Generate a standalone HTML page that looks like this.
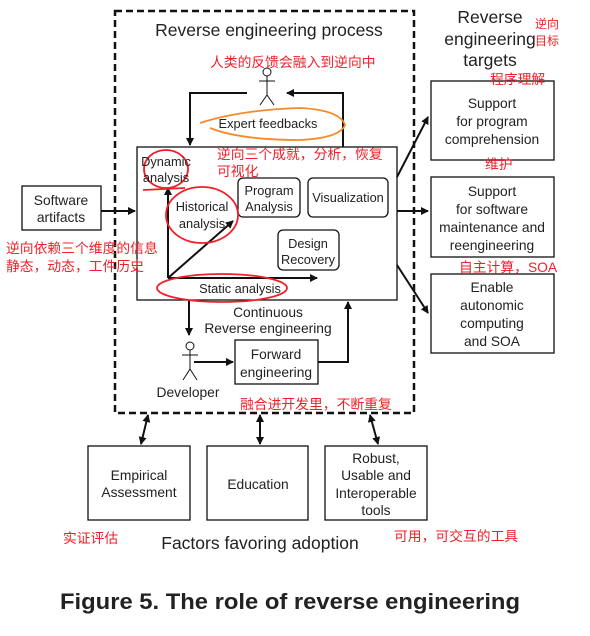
<!DOCTYPE html>
<html><head><meta charset="utf-8"><style>
html,body{margin:0;padding:0;background:#fff;width:590px;height:636px;overflow:hidden}
svg{display:block}
text{font-family:"Liberation Sans","Noto Sans CJK SC",sans-serif;fill:#222}
.r{fill:#f0202a}
</style></head><body>
<svg width="590" height="636" viewBox="0 0 590 636" xmlns="http://www.w3.org/2000/svg">
<defs>
<marker id="a" markerWidth="8" markerHeight="8" refX="7" refY="4" orient="auto" markerUnits="userSpaceOnUse"><path d="M0,0 L8,4 L0,8 z" fill="#111"/></marker>
<marker id="b" markerWidth="8" markerHeight="8" refX="1" refY="4" orient="auto" markerUnits="userSpaceOnUse"><path d="M8,0 L0,4 L8,8 z" fill="#111"/></marker>
</defs>
<g fill="none" stroke="#111">
<rect x="115" y="11" width="299" height="402" stroke-width="2.5" stroke-dasharray="7,4"/>
<rect x="137" y="147" width="260" height="153" stroke-width="1.3"/>
<rect x="22" y="186" width="79" height="44" stroke-width="1.3"/>
<rect x="431" y="81" width="123" height="79" stroke-width="1.3"/>
<rect x="431" y="177" width="123" height="80" stroke-width="1.3"/>
<rect x="431" y="274" width="123" height="79" stroke-width="1.3"/>
<rect x="88" y="446" width="102" height="74" stroke-width="1.3"/>
<rect x="207" y="446" width="101" height="74" stroke-width="1.3"/>
<rect x="325" y="446" width="102" height="74" stroke-width="1.3"/>
<rect x="235" y="340" width="83" height="44" stroke-width="1.3"/>
<rect x="238" y="178" width="62" height="39" rx="5" stroke-width="1.3"/>
<rect x="308" y="178" width="80" height="39" rx="5" stroke-width="1.3"/>
<rect x="278" y="230" width="61" height="40" rx="5" stroke-width="1.3"/>
<g stroke-width="2">
<path d="M101,211 L135,211" marker-end="url(#a)"/>
<path d="M247,93 L190,93 L190,145" marker-end="url(#a)"/>
<path d="M343,147 L343,93 L287,93" marker-end="url(#a)"/>
<path d="M168,278 L168,188" marker-end="url(#a)"/>
<path d="M168,278 L317,278" marker-end="url(#a)"/>
<path d="M168,278 L233,221" marker-end="url(#a)"/>
<path d="M397,177 L428,117" marker-end="url(#a)"/>
<path d="M397,211 L428,211" marker-end="url(#a)"/>
<path d="M397,265 L428,313" marker-end="url(#a)"/>
<path d="M189,300 L189,335" marker-end="url(#a)"/>
<path d="M194,362 L233,362" marker-end="url(#a)"/>
<path d="M318,362 L348,362 L348,302" marker-end="url(#a)"/>
<path d="M148,415 L141,444" marker-end="url(#a)" marker-start="url(#b)"/>
<path d="M260,415 L260,444" marker-end="url(#a)" marker-start="url(#b)"/>
<path d="M370,415 L378,444" marker-end="url(#a)" marker-start="url(#b)"/>
</g>
<g stroke-width="1">
<circle cx="267" cy="72" r="4"/><path d="M267,76 L267,95 M259,81 L275,81 M267,95 L260,105 M267,95 L274,105"/>
<circle cx="190" cy="346" r="4"/><path d="M190,350 L190,369 M182,355 L198,355 M190,369 L183,380 M190,369 L197,380"/>
</g>
<g stroke="#f0202a" stroke-width="1.8">
<ellipse cx="166" cy="169" rx="22" ry="19"/>
<ellipse cx="202" cy="215" rx="36" ry="28"/>
<ellipse cx="222" cy="288" rx="65" ry="14"/>
<path d="M143,190 L185,188"/>
</g>
<path d="M200,123 Q240,110 300,108 Q340,110 345,125 Q340,138 300,140 Q240,140 210,128" stroke="#f58a2a" stroke-width="1.8"/>
</g>
<g font-size="17.5" text-anchor="middle">
<text x="269" y="36">Reverse engineering process</text>
<text x="490" y="23">Reverse</text><text x="490" y="45">engineering</text><text x="490" y="66">targets</text>
<text x="260" y="549">Factors favoring adoption</text>
</g>
<g font-size="13.8" text-anchor="middle">
<text x="61" y="205">Software</text><text x="61" y="222">artifacts</text>
<text x="492" y="108">Support</text><text x="492" y="126">for program</text><text x="492" y="144">comprehension</text>
<text x="492" y="196">Support</text><text x="492" y="214">for software</text><text x="492" y="232">maintenance and</text><text x="492" y="250">reengineering</text>
<text x="492" y="292">Enable</text><text x="492" y="310">autonomic</text><text x="492" y="328">computing</text><text x="492" y="346">and SOA</text>
<text x="139" y="480">Empirical</text><text x="139" y="497">Assessment</text>
<text x="258" y="489">Education</text>
<text x="376" y="463">Robust,</text><text x="376" y="480">Usable and</text><text x="376" y="498">Interoperable</text><text x="376" y="515">tools</text>
<text x="276" y="359">Forward</text><text x="276" y="377">engineering</text>
<text x="268" y="317">Continuous</text><text x="268" y="333">Reverse engineering</text>
<text x="188" y="397">Developer</text>
</g>
<g font-size="12.8" text-anchor="middle">
<text x="269" y="195">Program</text><text x="269" y="211">Analysis</text>
<text x="348" y="202">Visualization</text>
<text x="308" y="248">Design</text><text x="308" y="264">Recovery</text>
<text x="202" y="211">Historical</text><text x="202" y="228">analysis</text>
<text x="268" y="128">Expert feedbacks</text>
<text x="240" y="293">Static analysis</text>
<text x="166" y="166">Dynamic</text><text x="166" y="182">analysis</text>
</g>
<g font-size="13.8">
<text class="r" x="210" y="67">人类的反馈会融入到逆向中</text>
<text class="r" x="217" y="159">逆向三个成就，分析，恢复</text>
<text class="r" x="217" y="176">可视化</text>
<text class="r" x="6" y="253">逆向依赖三个维度的信息</text>
<text class="r" x="6" y="271">静态，动态，工件历史</text>
<text class="r" x="490" y="84">程序理解</text>
<text class="r" x="485" y="169">维护</text>
<text class="r" x="459" y="272">自主计算，SOA</text>
<text class="r" x="240" y="409">融合进开发里，不断重复</text>
<text class="r" x="63" y="543">实证评估</text>
<text class="r" x="394" y="541">可用，可交互的工具</text>
</g>
<g font-size="12">
<text class="r" x="535" y="28">逆向</text><text class="r" x="535" y="45">目标</text>
</g>
<text x="60" y="609" font-size="22" font-weight="bold" fill="#111" textLength="460" lengthAdjust="spacingAndGlyphs">Figure 5. The role of reverse engineering</text>
</svg>
</body></html>
